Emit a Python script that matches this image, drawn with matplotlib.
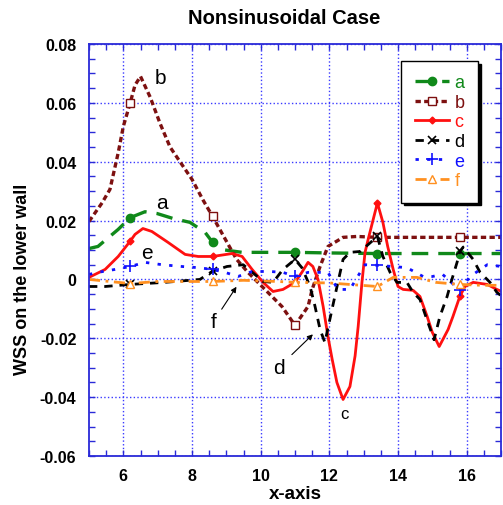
import numpy as np
import matplotlib
matplotlib.use("Agg")
import matplotlib.pyplot as plt

plt.rcParams['font.family'] = ['Liberation Sans', 'DejaVu Sans']

# wall shear stress curves along the lower wall
a_x = [5.0, 5.26, 5.85, 6.2, 6.63, 6.98, 7.45, 7.94, 8.38, 8.6, 8.96, 9.46, 10.0, 11.0, 12.0, 13.4, 14.0, 15.8, 17.0]
a_y = [0.0105, 0.0112, 0.017, 0.021, 0.023, 0.0224, 0.0207, 0.0194, 0.016, 0.0126, 0.010, 0.0092, 0.0092,
       0.0092, 0.009, 0.0088, 0.0088, 0.0088, 0.0088]

b_x = [5.0, 5.38, 5.61, 5.85, 6.0, 6.2, 6.34, 6.5, 6.78, 7.07, 7.36, 7.65, 8.0, 8.32, 8.6, 9.02, 9.3, 9.63,
       10.04, 10.62, 11.0, 11.38, 11.5, 11.73, 11.96, 12.4, 12.8, 13.4, 15.8, 17.0]
b_y = [0.0197, 0.026, 0.0306, 0.043, 0.052, 0.060, 0.066, 0.069, 0.062, 0.053, 0.045, 0.040, 0.034, 0.027,
       0.0214, 0.0126, 0.0068, 0.0024, -0.0024, -0.0092, -0.0156, -0.0092, -0.0034, 0.0044, 0.0112, 0.0143,
       0.0146, 0.0143, 0.0143, 0.0143]

c_x = [5.0, 5.47, 5.85, 6.2, 6.34, 6.57, 6.83, 7.3, 7.8, 8.18, 8.6, 9.17, 9.46, 9.75, 10.07, 10.36, 10.65,
       11.0, 11.2, 11.38, 11.52, 11.67, 11.82, 11.96, 12.08, 12.22, 12.4, 12.6, 12.75, 12.84, 12.95, 13.04,
       13.13, 13.4, 13.56, 13.7, 13.86, 14.0, 14.15, 14.44, 14.64, 14.85, 15.0, 15.2, 15.46, 15.6, 15.8,
       15.95, 16.19, 16.6, 16.88, 17.0]
c_y = [0.0007, 0.0034, 0.0078, 0.013, 0.0153, 0.0173, 0.0163, 0.0126, 0.0085, 0.0078, 0.0078, 0.0088,
       0.0078, 0.0034, -0.001, -0.0041, -0.0034, -0.001, 0.0024, 0.0058, 0.0044, 0.0, -0.0092, -0.0194,
       -0.027, -0.035, -0.0408, -0.0364, -0.026, -0.016, -0.001, 0.0092, 0.0136, 0.026, 0.0194, 0.0112,
       0.0034, -0.0024, -0.0034, -0.0037, -0.0058, -0.0126, -0.018, -0.0228, -0.017, -0.0126, -0.0058,
       -0.0024, -0.001, -0.0017, -0.0034, -0.004]

d_x = [5.0, 5.47, 6.2, 7.2, 8.23, 8.6, 9.02, 9.49, 9.9, 10.07, 10.36, 10.65, 11.0, 11.2, 11.44, 11.58,
       11.73, 11.87, 12.1, 12.25, 12.4, 12.6, 12.9, 13.4, 13.56, 13.77, 13.97, 14.26, 14.44, 14.64, 14.84,
       15.05, 15.22, 15.43, 15.57, 15.72, 15.8, 15.9, 16.19, 16.39, 16.68, 16.88, 17.0]
d_y = [-0.0024, -0.0024, -0.0017, -0.001, 0.0, 0.0028, 0.0044, 0.005, 0.001, -0.0007, -0.001, 0.0034,
       0.0068, 0.004, -0.0024, -0.009, -0.017, -0.0214, -0.009, -0.001, 0.0068, 0.0092, 0.0095, 0.0146,
       0.0078, 0.0024, -0.001, -0.001, -0.0044, -0.0068, -0.0136, -0.0205, -0.0126, -0.0058, 0.0, 0.0058,
       0.0095, 0.011, 0.0068, 0.0024, -0.001, -0.0044, -0.0055]

e_x = [5.0, 5.26, 5.76, 6.2, 6.63, 7.13, 7.7, 8.18, 8.6, 8.96, 9.34, 9.75, 10.27, 10.65, 11.0, 11.38, 11.96,
       12.25, 12.6, 12.9, 13.04, 13.4, 14.26, 14.73, 15.0, 15.3, 15.8, 16.1, 16.6, 17.0]
e_y = [0.0017, 0.0024, 0.0034, 0.0044, 0.0058, 0.005, 0.0044, 0.004, 0.0034, 0.0024, 0.001, 0.0027, 0.0027,
       0.0024, 0.001, 0.0024, 0.0024, -0.0034, -0.0034, 0.0024, 0.005, 0.0048, 0.004, 0.001, 0.001, 0.0017,
       -0.0037, 0.001, 0.005, 0.0044]

f_x = [5.0, 6.2, 7.0, 8.6, 9.5, 10.5, 11.0, 12.0, 13.4, 13.86, 14.55, 15.1, 15.8, 16.48, 17.0]
f_y = [0.0, -0.0014, -0.0007, -0.0007, -0.0003, -0.0007, -0.001, -0.0012, -0.0024, 0.0007, 0.0007, -0.001,
       -0.0017, -0.002, -0.002]

marker_x = [6.2, 8.6, 11.0, 13.4, 15.8]

x_ticks = [6, 8, 10, 12, 14, 16]
y_ticks = [-0.06, -0.04, -0.02, 0, 0.02, 0.04, 0.06, 0.08]
y_tick_labels = ['-0.06', '-0.04', '-0.02', '0', '0.02', '0.04', '0.06', '0.08']

blue = '#2a2ad8'


def mark_idx(xs):
    return [i for i, v in enumerate(xs) if any(abs(v - m) < 1e-9 for m in marker_x)]


fig = plt.figure(figsize=(5.03, 5.06), dpi=100)
ax = fig.add_axes([89 / 503, 1 - 457 / 506, 412 / 503, 412 / 506])

ax.plot(a_x, a_y, color='#10891a', lw=2.4, dashes=(5, 3), marker='o', ms=6,
        markevery=mark_idx(a_x), label='a')
ax.plot(b_x, b_y, color='#7d1010', lw=2.4, dashes=(1.6, 1.0), marker='s', ms=6, mfc='white',
        mew=1.0, markevery=mark_idx(b_x), label='b')
ax.plot(c_x, c_y, color='#ff1010', lw=2.0, marker='D', ms=3.5, markevery=mark_idx(c_x), label='c')
ax.plot(d_x, d_y, color='black', lw=2.0, dashes=(3, 2.5), marker='x', ms=6, mew=1.2,
        markevery=mark_idx(d_x), label='d')
ax.plot(e_x, e_y, color='#1010ff', lw=2.0, dashes=(1.2, 3), marker='+', ms=8, mew=1.2,
        markevery=mark_idx(e_x), label='e')
ax.plot(f_x, f_y, color='#ff9020', lw=2.0, dashes=(4, 2, 1, 2), marker='^', ms=6, mfc='white',
        mew=1.0, markevery=mark_idx(f_x), label='f')

# curve labels and pointers
ax.text(7.13, 0.0262, 'a', fontsize=15, ha='center', va='center')
ax.text(7.07, 0.0686, 'b', fontsize=15, ha='center', va='center')
ax.text(6.69, 0.0090, 'e', fontsize=15, ha='center', va='center')
ax.text(12.43, -0.0455, 'c', fontsize=12, ha='center', va='center')
ax.text(10.53, -0.0300, 'd', fontsize=15, ha='center', va='center')
ax.text(8.64, -0.0143, 'f', fontsize=15, ha='center', va='center')
ax.annotate('', xy=(11.58, -0.018), xytext=(10.85, -0.0262),
            arrowprops=dict(arrowstyle='-|>', color='black', lw=0.8, mutation_scale=8))
ax.annotate('', xy=(9.34, -0.0017), xytext=(8.82, -0.0109),
            arrowprops=dict(arrowstyle='-|>', color='black', lw=0.8, mutation_scale=8))

ax.set_xlim(5, 17)
ax.set_ylim(-0.06, 0.08)
ax.set_xticks(x_ticks)
ax.set_yticks(y_ticks)
ax.set_yticklabels(y_tick_labels)
ax.set_xticks(np.arange(5, 17.01, 0.5), minor=True)
ax.set_yticks(np.arange(-0.06, 0.0801, 0.005), minor=True)
ax.tick_params(which='both', direction='in', top=True, right=True, length=4, width=1, color=blue)
ax.tick_params(axis='both', which='major', labelsize=11.5, pad=9)
for lbl in ax.get_xticklabels() + ax.get_yticklabels():
    lbl.set_fontweight('bold')
for s in ax.spines.values():
    s.set_color(blue)
    s.set_linewidth(1.3)
ax.grid(True, which='major', color='#3a3aff', ls=':', lw=1.0)

ax.set_xlabel('x-axis', fontsize=13.5, fontweight='bold', labelpad=1)
ax.set_ylabel('WSS on the lower wall', fontsize=13, fontweight='bold')
ax.yaxis.set_label_coords(-0.14, 0.43)
fig.text(284 / 503, 1 - 18 / 506, 'Nonsinusoidal Case', fontsize=14.5, fontweight='bold',
         ha='center', va='center')

leg = ax.legend(loc='upper right', bbox_to_anchor=(0.945, 0.959), borderaxespad=0, fontsize=13,
                labelcolor='linecolor', handlelength=1.9, handletextpad=0.3, labelspacing=0.14,
                borderpad=0.75, fancybox=False, shadow={'color': 'black', 'alpha': 1}, framealpha=1,
                edgecolor='black')
leg.get_frame().set_linewidth(1.0)

fig.savefig('out.png', dpi=100)
